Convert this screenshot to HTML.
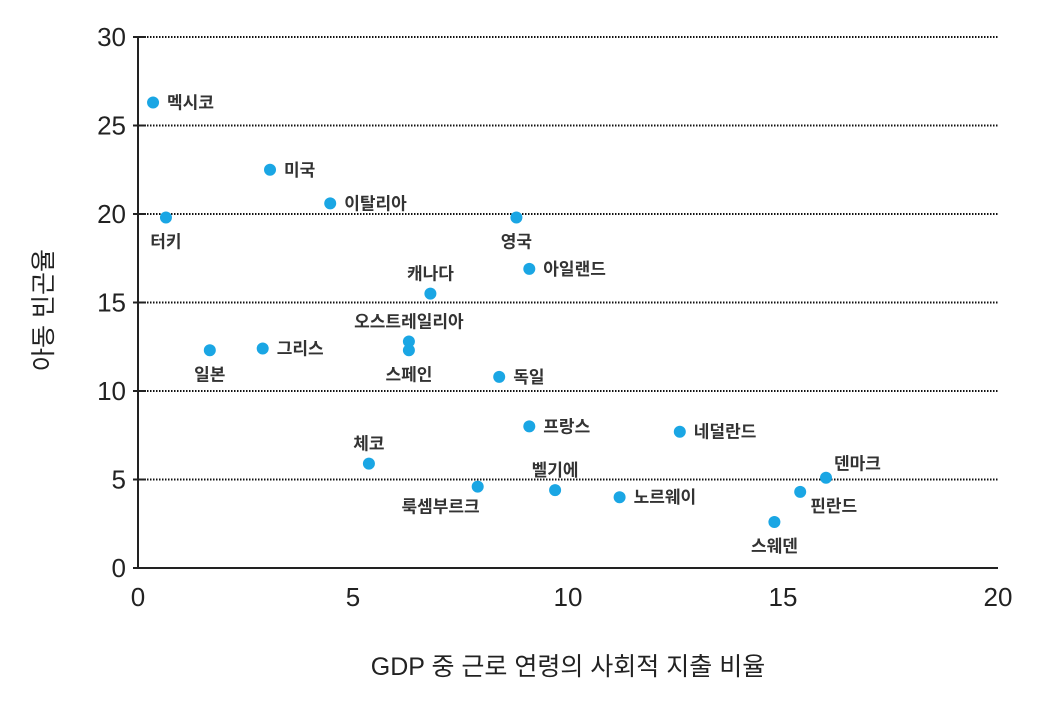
<!DOCTYPE html>
<html><head><meta charset="utf-8"><style>
body{margin:0;background:#fff;}
svg{display:block;font-family:"Liberation Sans","Noto Sans CJK KR",sans-serif;}
</style></head><body>
<svg id="chart" width="1038" height="708"></svg>
<script>
const countries=["멕시코","미국","이탈리아","터키","영국","아일랜드","캐나다","오스트레일리아","스페인","일본","그리스","독일","프랑스","네덜란드","체코","룩셈부르크","벨기에","노르웨이","덴마크","핀란드","스웨덴"];
const spending=[0.35,3.07,4.47,0.65,8.8,9.1,6.8,6.3,6.3,1.67,2.9,8.4,9.1,12.6,5.37,7.9,9.7,11.2,16.0,15.4,14.8];
const poverty=[26.3,22.5,20.6,19.8,19.8,16.9,15.5,12.8,12.3,12.3,12.4,10.8,8.0,7.7,5.9,4.6,4.4,4.0,5.1,4.3,2.6];
const labelPos=["r","r","r","b","b","r","t","t","b","b","r","r","r","r","t","bl","t","r","tr","br","b"];
const xTicks=[0,5,10,15,20];
const yTicks=[0,5,10,15,20,25,30];
const NS="http://www.w3.org/2000/svg";
const svg=document.getElementById('chart');
const X0=138,X1=998,Y0=568,Y1=37;
const xs=v=>X0+(v/20)*(X1-X0);
const ys=v=>Y0-(v/30)*(Y0-Y1);
function mk(t,a){const e=document.createElementNS(NS,t);for(const k in a)e.setAttribute(k,a[k]);svg.appendChild(e);return e;}
yTicks.forEach(v=>{
  if(v>0){const g=mk('line',{x1:X0,x2:X1,y1:ys(v),y2:ys(v),stroke:'#111','stroke-width':2,'stroke-dasharray':'1.5 1.5'});
  
  }
  const tk=mk('line',{x1:X0-5,x2:X0+8,y1:ys(v),y2:ys(v),stroke:'#222','stroke-width':2});
  
  
  const t=mk('text',{x:X0-12,y:ys(v)+9,'text-anchor':'end','font-size':26,fill:'#222'});t.textContent=v;
  
  
});
xTicks.forEach(v=>{
  const t=mk('text',{x:xs(v),y:606,'text-anchor':'middle','font-size':26,fill:'#222'});t.textContent=v;
  
  
});
const ya=mk('line',{x1:X0,x2:X0,y1:Y1,y2:Y0,stroke:'#222','stroke-width':2});


const xa=mk('line',{x1:X0,x2:X1,y1:Y0,y2:Y0,stroke:'#222','stroke-width':2});


const xt=mk('text',{x:568,y:675,'text-anchor':'middle','font-size':25,fill:'#222'});xt.textContent='GDP 중 근로 연령의 사회적 지출 비율';


const yt=mk('text',{x:0,y:0,'text-anchor':'middle','font-size':25,fill:'#222',transform:'translate(52,310) rotate(-90)'});yt.textContent='아동 빈곤율';


countries.forEach((c,i)=>{
  const cx=xs(spending[i]),cy=ys(poverty[i]);
  const p=mk('circle',{cx:cx,cy:cy,r:6,fill:'#1aa6e4'});
  
  
  let x=cx,y=cy,a='start';const pos=labelPos[i];
  if(pos=='r'){x=cx+14;y=cy+6;}
  else if(pos=='b'){a='middle';y=cy+30;}
  else if(pos=='t'){a='middle';y=cy-14;}
  else if(pos=='bl'){a='end';x=cx+2;y=cy+26;}
  else if(pos=='tr'){x=cx+8;y=cy-8;}
  else if(pos=='br'){x=cx+10;y=cy+20;}
  const t=mk('text',{x:x,y:y,'text-anchor':a,'font-size':17,'font-weight':'bold',fill:'#333'});t.textContent=c;
  
  
});
</script>
</body></html>
